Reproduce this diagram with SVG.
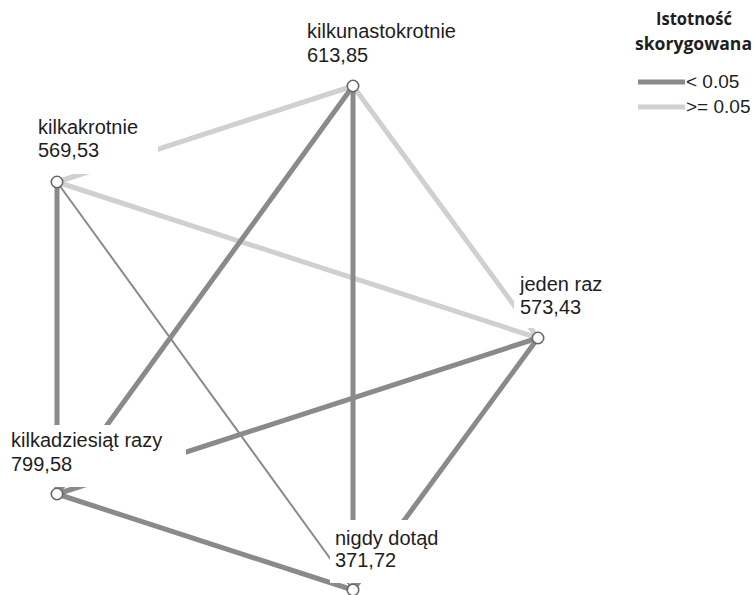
<svg xmlns="http://www.w3.org/2000/svg" width="754" height="595" viewBox="0 0 754 595">
<style>
.sig{stroke:#8a8a8a;stroke-width:5;fill:none}
.thin{stroke:#8a8a8a;stroke-width:2;fill:none}
.ns{stroke:#d0d0d0;stroke-width:5;fill:none}
.box{fill:#ffffff}
.lbl{font-family:"Liberation Sans",Arial,sans-serif;font-size:20px;fill:#1e1e1e}
.node{fill:#ffffff;stroke:#666666;stroke-width:1.6}
.lh{font-family:"Open Sans","Liberation Sans",sans-serif;font-weight:bold;font-size:17px;fill:#1e1e1e}
.lt{font-family:"Liberation Sans",Arial,sans-serif;font-size:19px;fill:#1e1e1e}
</style>
<rect width="754" height="595" fill="#ffffff"/>
<g id="connectors">
<line class="ns" x1="353" y1="86" x2="57" y2="182"/>
<line class="ns" x1="353" y1="86" x2="538" y2="338"/>
<line class="ns" x1="57" y1="182" x2="538" y2="338"/>
<line class="sig" x1="353" y1="86" x2="57" y2="494"/>
<line class="sig" x1="353" y1="86" x2="353" y2="590"/>
<line class="sig" x1="57" y1="182" x2="57" y2="494"/>
<line class="thin" x1="57" y1="182" x2="353" y2="590"/>
<line class="sig" x1="538" y1="338" x2="57" y2="494"/>
<line class="sig" x1="538" y1="338" x2="353" y2="590"/>
<line class="sig" x1="57" y1="494" x2="353" y2="590"/>
</g>
<g id="node-kilkunastokrotnie">
<rect class="box" x="303" y="18" width="160" height="52"/>
<text class="lbl" x="307" y="38">kilkunastokrotnie</text>
<text class="lbl" x="307" y="62">613,85</text>
<circle class="node" cx="353" cy="86" r="5.7"/>
</g>
<g id="node-kilkakrotnie">
<rect class="box" x="30" y="114" width="128" height="60"/>
<text class="lbl" x="38" y="134">kilkakrotnie</text>
<text class="lbl" x="38" y="157">569,53</text>
<circle class="node" cx="57" cy="182" r="5.7"/>
</g>
<g id="node-jeden-raz">
<rect class="box" x="514" y="270" width="110" height="58"/>
<text class="lbl" x="520" y="291">jeden raz</text>
<text class="lbl" x="520" y="314">573,43</text>
<circle class="node" cx="538" cy="338" r="5.7"/>
</g>
<g id="node-kilkadziesiat-razy">
<rect class="box" x="5" y="425" width="181" height="62"/>
<text class="lbl" x="11" y="447">kilkadziesiąt razy</text>
<text class="lbl" x="11" y="471">799,58</text>
<circle class="node" cx="57" cy="494" r="5.7"/>
</g>
<g id="node-nigdy-dotad">
<rect class="box" x="330" y="520" width="120" height="63"/>
<text class="lbl" x="335" y="545">nigdy dotąd</text>
<text class="lbl" x="335" y="567">371,72</text>
<circle class="node" cx="353" cy="590" r="5.7"/>
</g>
<g id="legend">
<text class="lh" x="656" y="25" textLength="76" lengthAdjust="spacingAndGlyphs">Istotność</text>
<text class="lh" x="635" y="50" textLength="117" lengthAdjust="spacingAndGlyphs">skorygowana</text>
<line class="sig" x1="638" y1="82" x2="685" y2="82"/>
<line class="ns" x1="638" y1="107" x2="685" y2="107"/>
<text class="lt" x="686" y="88">&lt; 0.05</text>
<text class="lt" x="686" y="113">&gt;= 0.05</text>
</g>
</svg>
